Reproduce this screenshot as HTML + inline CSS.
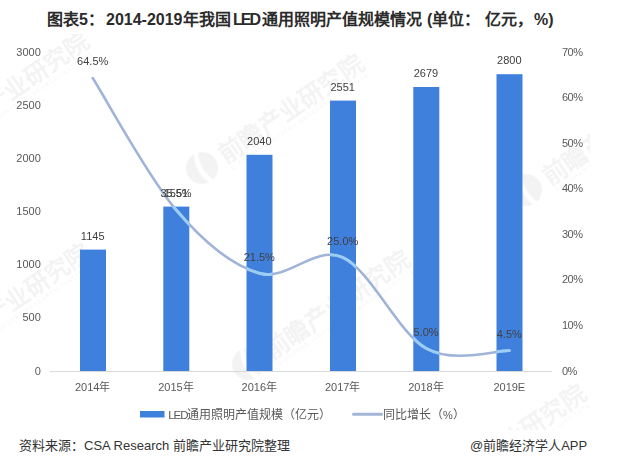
<!DOCTYPE html>
<html lang="zh-CN"><head><meta charset="utf-8">
<style>
html,body{margin:0;padding:0;background:#fff;}
body{width:630px;height:464px;overflow:hidden;position:relative;font-family:"Liberation Sans",sans-serif;}
svg{position:absolute;left:0;top:0;}
.t{position:absolute;white-space:nowrap;line-height:1;}
</style></head><body>
<svg width="630" height="464" viewBox="0 0 630 464" font-family="Liberation Sans, sans-serif">
  <!-- watermarks -->
  <defs><clipPath id="ce" clipPathUnits="userSpaceOnUse"><rect x="0" y="34" width="590" height="396"/></clipPath><g id="wm">
    <circle cx="0" cy="0" r="16"/><path d="M2,-17 C-6,-6 -6,6 -2,17 L3,17 C-1,6 -1,-6 7,-17Z" fill="#fff"/>
    <text x="22" y="10" font-size="24" font-weight="bold" textLength="170" lengthAdjust="spacingAndGlyphs">前瞻产业研究院</text>
    <text x="24" y="19" font-size="5.5" textLength="165" lengthAdjust="spacing">QIANZHAN INDUSTRY RESEARCH INSTITUTE</text>
  </g></defs>
  <g fill="#000" opacity="0.05" clip-path="url(#ce)">
    <use href="#wm" transform="translate(-73,146) rotate(-34.5)"/>
    <use href="#wm" transform="translate(202,168) rotate(-34.5)"/>
    <use href="#wm" transform="translate(-72,357) rotate(-34.5)"/>
    <use href="#wm" transform="translate(248,364) rotate(-34.5)"/>
    <use href="#wm" transform="translate(526,190) rotate(-34.5)"/>
    <use href="#wm" transform="translate(424,498) rotate(-34.5)"/>
  </g>
  <!-- axis line -->
  <line x1="50" y1="371.5" x2="552" y2="371.5" stroke="#d9d9d9" stroke-width="1"/>
  <!-- bars -->
  <g fill="#4080dd">
    <rect x="80" y="249.6" width="26" height="121.4"/>
    <rect x="163.3" y="206.6" width="26" height="164.4"/>
    <rect x="246.5" y="154.8" width="26" height="216.2"/>
    <rect x="330" y="100.6" width="26" height="270.4"/>
    <rect x="413.3" y="87" width="26" height="284"/>
    <rect x="496.5" y="74.2" width="26" height="296.8"/>
  </g>
  <!-- line -->
  <defs><clipPath id="bc"><rect x="80" y="249.6" width="26" height="121.4"/><rect x="163.3" y="206.6" width="26" height="164.4"/><rect x="246.5" y="154.8" width="26" height="216.2"/><rect x="330" y="100.6" width="26" height="270.4"/><rect x="413.3" y="87" width="26" height="284"/><rect x="496.5" y="74.2" width="26" height="296.8"/></clipPath></defs>
  <path id="ln" d="M92.7,78.0 C106.6,99.9 148.2,177.2 176.0,209.7 C203.8,242.3 231.5,265.4 259.3,273.3 C287.1,281.3 314.9,244.9 342.7,257.4 C370.4,269.9 398.2,332.8 426.0,348.3 C453.8,363.8 495.4,350.2 509.3,350.6" fill="none" stroke="#a0b4d9" stroke-width="2.6" stroke-linecap="round"/>
  <path d="M92.7,78.0 C106.6,99.9 148.2,177.2 176.0,209.7 C203.8,242.3 231.5,265.4 259.3,273.3 C287.1,281.3 314.9,244.9 342.7,257.4 C370.4,269.9 398.2,332.8 426.0,348.3 C453.8,363.8 495.4,350.2 509.3,350.6" fill="none" stroke="#9ccdf5" stroke-width="3" stroke-linecap="round" clip-path="url(#bc)"/>
  <!-- left axis labels -->
  <g font-size="11" fill="#595959" text-anchor="end">
    <text x="40.8" y="56">3000</text>
    <text x="40.8" y="109">2500</text>
    <text x="40.8" y="162">2000</text>
    <text x="40.8" y="215">1500</text>
    <text x="40.8" y="268">1000</text>
    <text x="40.8" y="321">500</text>
    <text x="40.8" y="375">0</text>
  </g>
  <!-- right axis labels -->
  <g font-size="11" fill="#595959" letter-spacing="-0.5">
    <text x="562" y="56">70%</text>
    <text x="562" y="101.4">60%</text>
    <text x="562" y="146.9">50%</text>
    <text x="562" y="192.3">40%</text>
    <text x="562" y="237.7">30%</text>
    <text x="562" y="283.1">20%</text>
    <text x="562" y="328.6">10%</text>
    <text x="562" y="375">0%</text>
  </g>
  <!-- bar labels -->
  <g font-size="11" fill="#404040" text-anchor="middle">
    <text x="92.7" y="239.5">1145</text>
    <text x="176" y="197">1551</text>
    <text x="259.3" y="144.5">2040</text>
    <text x="342.7" y="90.5">2551</text>
    <text x="426" y="77">2679</text>
    <text x="509.3" y="63.8">2800</text>
  </g>
  <!-- line labels -->
  <g font-size="11" fill="#404040" text-anchor="middle">
    <text x="92.7" y="65">64.5%</text>
    <text x="176" y="197">35.5%</text>
    <text x="259.3" y="261">21.5%</text>
    <text x="342.7" y="245">25.0%</text>
    <text x="426" y="336">5.0%</text>
    <text x="509.3" y="338">4.5%</text>
  </g>
  <!-- x labels -->
  <g font-size="11" fill="#595959" text-anchor="middle">
    <text x="92.7" y="391">2014年</text>
    <text x="176" y="391">2015年</text>
    <text x="259.3" y="391">2016年</text>
    <text x="342.7" y="391">2017年</text>
    <text x="426" y="391">2018年</text>
    <text x="509.3" y="391">2019E</text>
  </g>
  <!-- legend -->
  <rect x="140" y="411" width="24.5" height="6.5" fill="#4080dd"/>
  <text x="168.3" y="418.8" font-size="12" fill="#595959"><tspan font-size="11.5" letter-spacing="-1.1">LED</tspan>通用照明产值规模（亿元）</text>
  <line x1="353.5" y1="414.3" x2="381.5" y2="414.3" stroke="#a3b6d8" stroke-width="3" stroke-linecap="round"/>
  <text x="383" y="419" font-size="12" fill="#595959">同比增长（<tspan font-size="11">%</tspan>）</text>
</svg>
<div class="t" style="left:47px;top:12px;font-size:16px;font-weight:bold;color:#2b2b2b;">图表5：</div>
<div class="t" style="left:106px;top:12px;font-size:16px;font-weight:bold;color:#2b2b2b;">2014-2019年我国</div>
<div class="t" style="left:233px;top:12px;font-size:16px;font-weight:bold;color:#2b2b2b;letter-spacing:-2px;">LED</div>
<div class="t" style="left:262px;top:12px;font-size:16px;font-weight:bold;color:#2b2b2b;">通用照明产值规模情况</div>
<div class="t" style="left:427px;top:12px;font-size:16px;font-weight:bold;color:#2b2b2b;">(单位：</div>
<div class="t" style="left:485px;top:12px;font-size:16px;font-weight:bold;color:#2b2b2b;">亿元，</div>
<div class="t" style="left:534px;top:12px;font-size:16px;font-weight:bold;color:#2b2b2b;">%)</div>
<div class="t" style="left:19px;top:439px;font-size:13px;color:#333;">资料来源：CSA Research 前瞻产业研究院整理</div>
<div class="t" style="left:470px;top:439px;font-size:13px;color:#333;">@前瞻经济学人APP</div>
</body></html>
